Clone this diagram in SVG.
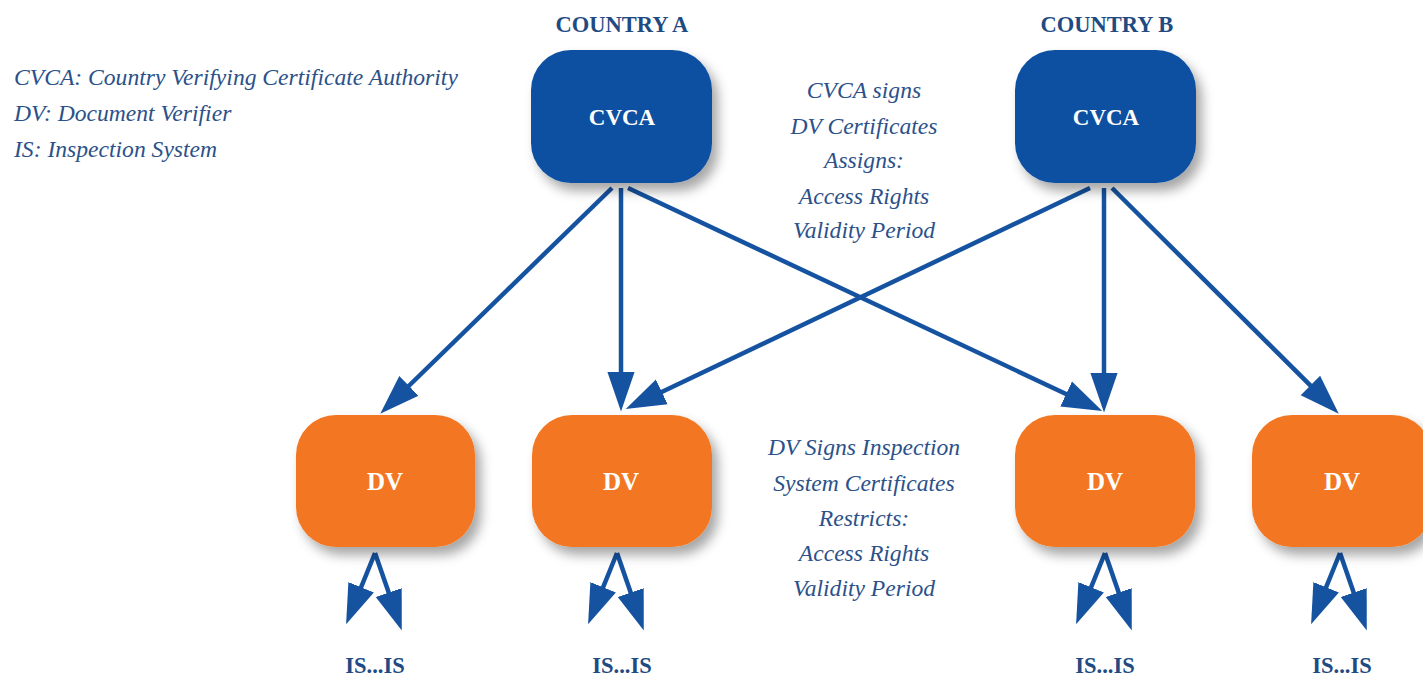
<svg xmlns="http://www.w3.org/2000/svg" width="1423" height="678" viewBox="0 0 1423 678">
<defs>
<style>
.cvca{fill:#0d4fa0;}
.dv{fill:#f37721;}
.lbl{font-family:"Liberation Serif","DejaVu Serif",serif;font-weight:bold;fill:#ffffff;font-size:23px;text-anchor:middle;}
.dvl{font-size:25px;}
.head{font-family:"Liberation Serif","DejaVu Serif",serif;font-weight:bold;fill:#1f4b82;font-size:22.5px;text-anchor:middle;}
.note{font-family:"Liberation Serif","DejaVu Serif",serif;font-style:italic;fill:#2c5189;font-size:23.6px;}
.mid{text-anchor:middle;}
.conn{stroke:#1553a0;stroke-width:4.5;fill:none;marker-end:url(#ah);}
</style>
<filter id="sh" x="-20%" y="-20%" width="150%" height="160%">
<feDropShadow dx="6" dy="8" stdDeviation="6" flood-color="#000" flood-opacity="0.35"/>
</filter>
<marker id="ah" markerUnits="userSpaceOnUse" markerWidth="40" markerHeight="30" viewBox="0 0 32 22" refX="22" refY="11" orient="auto">
<path d="M0,0 L32,11 L0,22 Z" fill="#1553a0"/>
</marker>
</defs>
<rect width="1423" height="678" fill="#ffffff"/>

<g id="legend">
<text class="note" x="14" y="85">CVCA: Country Verifying Certificate Authority</text>
<text class="note" x="14" y="121">DV: Document Verifier</text>
<text class="note" x="14" y="157">IS: Inspection System</text>
</g>

<g id="connectors">
<path class="conn" d="M612,188 L389.2,405"/>
<path class="conn" d="M621,188 L621,399"/>
<path class="conn" d="M628,188 L1091,405.7"/>
<path class="conn" d="M1090,188 L637,403.7"/>
<path class="conn" d="M1104,188 L1104,400"/>
<path class="conn" d="M1112,188 L1329.9,404.9"/>
<path class="conn" d="M375,553 L350.8,612.7"/>
<path class="conn" d="M375,553 L397.7,618.6"/>
<path class="conn" d="M617,553 L592.8,612.7"/>
<path class="conn" d="M617,553 L639.7,618.6"/>
<path class="conn" d="M1105,553 L1080.8,612.7"/>
<path class="conn" d="M1105,553 L1127.7,618.6"/>
<path class="conn" d="M1340,553 L1315.8,612.7"/>
<path class="conn" d="M1340,553 L1362.7,618.6"/>
</g>

<g id="countryA">
<text class="head" x="622" y="32">COUNTRY A</text>
<rect class="cvca" x="531" y="50" width="181" height="133" rx="40" filter="url(#sh)"/>
<text class="lbl" x="622" y="125">CVCA</text>
</g>
<g id="countryB">
<text class="head" x="1107" y="32">COUNTRY B</text>
<rect class="cvca" x="1015" y="50" width="181" height="133" rx="40" filter="url(#sh)"/>
<text class="lbl" x="1106" y="125">CVCA</text>
</g>

<g id="dv1">
<rect class="dv" x="296" y="415" width="179" height="132" rx="40" filter="url(#sh)"/>
<text class="lbl dvl" x="385" y="490">DV</text>
</g>
<g id="dv2">
<rect class="dv" x="532" y="415" width="180" height="132" rx="40" filter="url(#sh)"/>
<text class="lbl dvl" x="621" y="490">DV</text>
</g>
<g id="dv3">
<rect class="dv" x="1015" y="415" width="180" height="132" rx="40" filter="url(#sh)"/>
<text class="lbl dvl" x="1105" y="490">DV</text>
</g>
<g id="dv4">
<rect class="dv" x="1252" y="415" width="180" height="132" rx="40" filter="url(#sh)"/>
<text class="lbl dvl" x="1342" y="490">DV</text>
</g>

<g id="is1"><text class="head" x="375" y="673">IS...IS</text></g>
<g id="is2"><text class="head" x="622" y="673">IS...IS</text></g>
<g id="is3"><text class="head" x="1105" y="673">IS...IS</text></g>
<g id="is4"><text class="head" x="1342" y="673">IS...IS</text></g>

<g id="cvcaNote">
<text class="note mid" x="864" y="98">CVCA signs</text>
<text class="note mid" x="864" y="134">DV Certificates</text>
<text class="note mid" x="864" y="168">Assigns:</text>
<text class="note mid" x="864" y="204">Access Rights</text>
<text class="note mid" x="864" y="238">Validity Period</text>
</g>
<g id="dvNote">
<text class="note mid" x="864" y="455">DV Signs Inspection</text>
<text class="note mid" x="864" y="491">System Certificates</text>
<text class="note mid" x="864" y="526">Restricts:</text>
<text class="note mid" x="864" y="561">Access Rights</text>
<text class="note mid" x="864" y="596">Validity Period</text>
</g>
</svg>
